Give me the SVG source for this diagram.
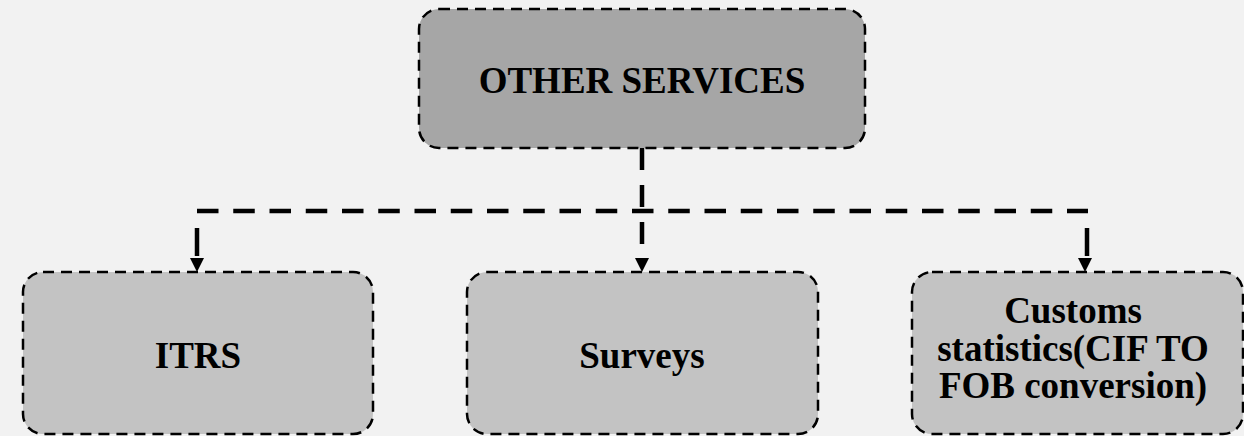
<svg xmlns="http://www.w3.org/2000/svg" width="1244" height="436" viewBox="0 0 1244 436">
<style>
.box{stroke:#000;stroke-width:2.5;stroke-dasharray:11 7}
.top{fill:#a6a6a6}
.sub{fill:#c3c3c3}
.lbl{font-family:"Liberation Serif","Times New Roman",serif;font-weight:bold;font-size:37px;fill:#000;text-anchor:middle}
.con{fill:none;stroke:#000;stroke-width:4.5;stroke-dasharray:22 15}
.ah{fill:#000}
</style>
<rect width="1244" height="436" fill="#f2f2f2"/>
<g id="connectors">
<path class="con" d="M642,148 V257"/>
<path class="con" d="M197,211 H1088" style="stroke-dasharray:21.5 14.75"/>
<path class="con" d="M197,228 V256" style="stroke-dasharray:none"/>
<path class="con" d="M1087,228 V256" style="stroke-dasharray:none"/>
<polygon class="ah" points="190,258 204,258 197,272"/>
<polygon class="ah" points="635,258 649,258 642,272"/>
<polygon class="ah" points="1078,258 1092,258 1085,272"/>
</g>
<g id="other-services">
<rect class="box top" x="419" y="9" width="446" height="139" rx="20"/>
<text class="lbl" x="642" y="93">OTHER SERVICES</text>
</g>
<g id="itrs">
<rect class="box sub" x="23" y="272" width="350" height="162" rx="20"/>
<text class="lbl" x="198" y="368">ITRS</text>
</g>
<g id="surveys">
<rect class="box sub" x="467" y="272" width="351" height="162" rx="20"/>
<text class="lbl" x="642" y="368">Surveys</text>
</g>
<g id="customs">
<rect class="box sub" x="912" y="272" width="331" height="162" rx="20"/>
<text class="lbl" x="1073" y="323">Customs</text>
<text class="lbl" x="1073" y="361">statistics(CIF TO</text>
<text class="lbl" x="1073" y="398">FOB conversion)</text>
</g>
</svg>
